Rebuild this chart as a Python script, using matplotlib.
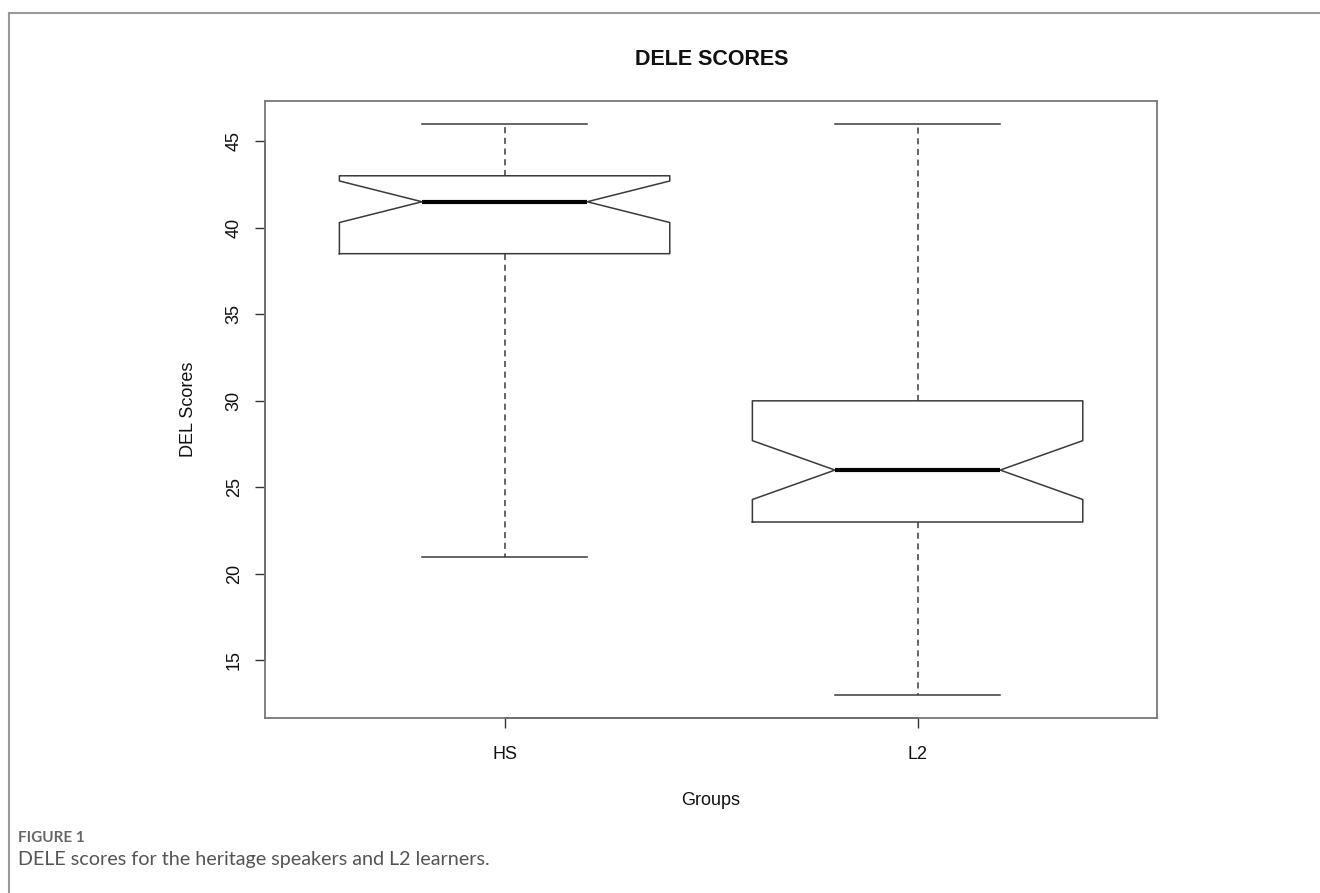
import matplotlib.pyplot as plt
from matplotlib.lines import Line2D

plt.rcParams['font.family'] = ['Liberation Sans', 'DejaVu Sans']

groups = ['HS', 'L2']
whisker_low = [21, 13]
q1 = [38.5, 23]
medians = [41.5, 26]
q3 = [43, 30]
whisker_high = [46, 46]
notch_low = [40.3, 24.3]
notch_high = [42.7, 27.7]
yticks = [15, 20, 25, 30, 35, 40, 45]

stats = []
for i, g in enumerate(groups):
    stats.append(dict(label=g, whislo=whisker_low[i], q1=q1[i], med=medians[i],
                      q3=q3[i], whishi=whisker_high[i],
                      cilo=notch_low[i], cihi=notch_high[i], fliers=[]))

fig = plt.figure(figsize=(13.2, 8.93), dpi=100)
ax = fig.add_axes([0.2008, 0.196, 0.6758, 0.6909])

line_col = '#3a3a3a'
ax.bxp(stats, positions=[1, 2], widths=0.8, shownotches=True,
       boxprops=dict(color=line_col, linewidth=1.1),
       whiskerprops=dict(color=line_col, linewidth=1.1, linestyle=(0, (4, 3))),
       capprops=dict(color=line_col, linewidth=1.1),
       medianprops=dict(color='black', linewidth=3),
       showfliers=False)

ymin, ymax = 11.68, 47.32
ax.set_xlim(0.42, 2.58)
ax.set_ylim(ymin, ymax)
ax.set_yticks(yticks)
ax.set_yticklabels([str(t) for t in yticks], rotation=90, va='center')
ax.set_xticks([1, 2])
ax.set_xticklabels(groups)
ax.tick_params(axis='both', direction='out', length=7, width=1, color='#333333',
               labelsize=13, labelcolor='#111111')
ax.tick_params(axis='y', pad=9)
ax.tick_params(axis='x', pad=13)

for s in ax.spines.values():
    s.set_color('#777777')
    s.set_linewidth(1.3)

# darker axis lines spanning the outer ticks, R style
ax.add_line(Line2D([0.42, 0.42], [yticks[0], yticks[-1]], color='#222222',
                   linewidth=1.3, clip_on=False))
ax.add_line(Line2D([1, 2], [ymin, ymin], color='#222222', linewidth=1.3, clip_on=False))

ax.set_xlabel('Groups', fontsize=13, labelpad=21, color='#111111')
ax.set_ylabel('DEL Scores', fontsize=13, labelpad=21, color='#111111')
fig.text(0.5388, 0.933, 'DELE SCORES', ha='center', va='center', fontsize=15.5,
         fontweight='bold', color='#111111')

# outer frame and caption
fig.add_artist(Line2D([9 / 1320, 1.0], [1 - 13 / 893] * 2, color='#999999',
                      linewidth=1.5, transform=fig.transFigure))
fig.add_artist(Line2D([9 / 1320] * 2, [0.0, 1 - 13 / 893], color='#999999',
                      linewidth=1.5, transform=fig.transFigure))
fig.text(18 / 1320, 1 - 838 / 893, 'FIGURE 1', ha='left', va='center', fontsize=11,
         fontweight='bold', color='#666666', family=['Lato', 'DejaVu Sans'])
fig.text(18 / 1320, 1 - 859 / 893, 'DELE scores for the heritage speakers and L2 learners.',
         ha='left', va='center', fontsize=14.2, color='#555555', family=['Lato', 'DejaVu Sans'])

fig.savefig('out.png', dpi=100)
